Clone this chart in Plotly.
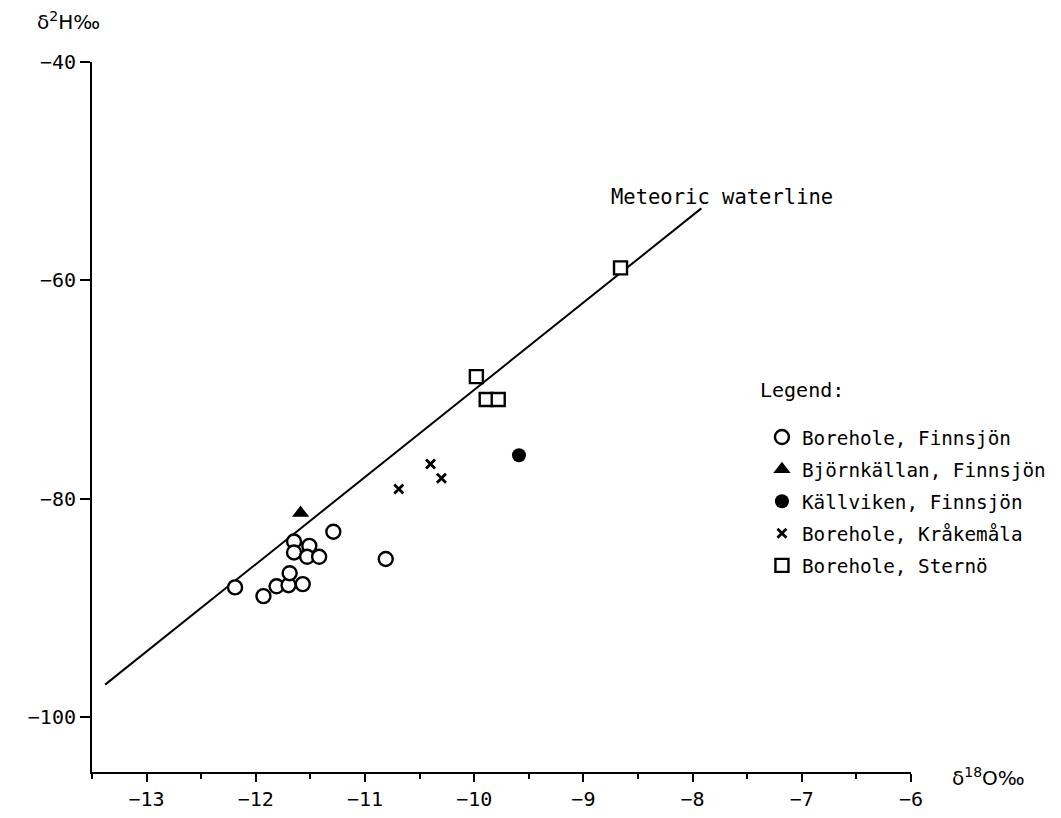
import plotly.graph_objects as go

# Data
fin_x = [-12.19, -11.93, -11.81, -11.70, -11.69, -11.57, -11.65, -11.65, -11.51, -11.53, -11.42, -11.29, -10.81]
fin_y = [-88.1, -88.9, -88.0, -87.9, -86.8, -87.8, -83.9, -84.9, -84.3, -85.3, -85.3, -83.0, -85.5]
bjo_x = [-11.59]
bjo_y = [-81.3]
kal_x = [-9.59]
kal_y = [-76.0]
kra_x = [-10.40, -10.30, -10.69]
kra_y = [-76.8, -78.1, -79.1]
ste_x = [-8.66, -9.98, -9.89, -9.78]
ste_y = [-58.85, -68.8, -70.9, -70.9]
mwl_x = [-13.38, -7.92]
mwl_y = [-97.0, -53.4]

x_ticks = [-13, -12, -11, -10, -9, -8, -7, -6]
y_ticks = [-40, -60, -80, -100]

FONT = "DejaVu Sans Mono"
FONT2 = "DejaVu Sans"
fig = go.Figure()

fig.add_trace(go.Scatter(x=mwl_x, y=mwl_y, mode="lines",
                         line=dict(color="black", width=2), showlegend=False))
fig.add_trace(go.Scatter(x=fin_x, y=fin_y, mode="markers", name="Borehole, Finnsjön", legendgroup="a",
                         marker=dict(symbol="circle", size=14, color="white",
                                     line=dict(color="black", width=2.4))))
fig.add_trace(go.Scatter(x=bjo_x, y=bjo_y, mode="markers", name="Björnkällan, Finnsjön", legendgroup="b",
                         marker=dict(symbol="triangle-up", size=15, color="black",
                                     line=dict(color="black", width=0))))
fig.add_trace(go.Scatter(x=kal_x, y=kal_y, mode="markers", name="Källviken, Finnsjön", legendgroup="c",
                         marker=dict(symbol="circle", size=14, color="black",
                                     line=dict(color="black", width=0))))
fig.add_trace(go.Scatter(x=kra_x, y=kra_y, mode="markers", name="Borehole, Kråkemåla", legendgroup="d",
                         marker=dict(symbol="x-thin", size=9, color="black",
                                     line=dict(color="black", width=2.8))))
fig.add_trace(go.Scatter(x=ste_x, y=ste_y, mode="markers", name="Borehole, Sternö", legendgroup="e",
                         marker=dict(symbol="square", size=13, color="white",
                                     line=dict(color="black", width=2.4))))

fig.update_layout(
    width=1061, height=818,
    margin=dict(l=84, r=158, t=54, b=54),
    paper_bgcolor="white", plot_bgcolor="white",
    font=dict(family=FONT, size=20, color="black"),
    legend=dict(x=0.818, y=0.4986, xanchor="left", yanchor="top",
                font=dict(size=19.3), bgcolor="rgba(0,0,0,0)",
                itemwidth=30, tracegroupgap=4),
    xaxis=dict(range=[-13.5, -6], tickvals=x_ticks, ticktext=[f"\u2212{abs(v)}" for v in x_ticks],
               showgrid=False, zeroline=False, showline=True, linecolor="black", linewidth=2,
               ticks="outside", ticklen=8, tickwidth=2, tickcolor="black",
               minor=dict(dtick=0.5, tick0=-13.5, ticks="outside", ticklen=5, tickwidth=1.5, tickcolor="black"),
               tickfont=dict(size=20)),
    yaxis=dict(range=[-105, -40], tickvals=y_ticks, ticktext=[f"\u2212{abs(v)}" for v in y_ticks],
               showgrid=False, zeroline=False, showline=True, linecolor="black", linewidth=2,
               ticks="outside", ticklen=10, tickwidth=2, tickcolor="black",
               tickfont=dict(size=20)),
    annotations=[
        dict(text="δ<sup>2</sup>H‰", xref="paper", yref="paper", x=-0.0696, y=1.058,
             xanchor="left", yanchor="middle", showarrow=False, font=dict(family=FONT2, size=20)),
        dict(text="δ<sup>18</sup>O‰", xref="paper", yref="paper", x=1.0476, y=-0.007,
             xanchor="left", yanchor="middle", showarrow=False, font=dict(family=FONT2, size=20)),
        dict(text="Meteoric waterline", xref="x", yref="y", x=-7.73, y=-52.35,
             xanchor="center", yanchor="middle", showarrow=False, font=dict(size=20.5)),
        dict(text="Legend:", xref="paper", yref="paper", x=0.813, y=0.538,
             xanchor="left", yanchor="middle", showarrow=False, font=dict(size=20)),
    ],
)

fig.write_html("out.html")
